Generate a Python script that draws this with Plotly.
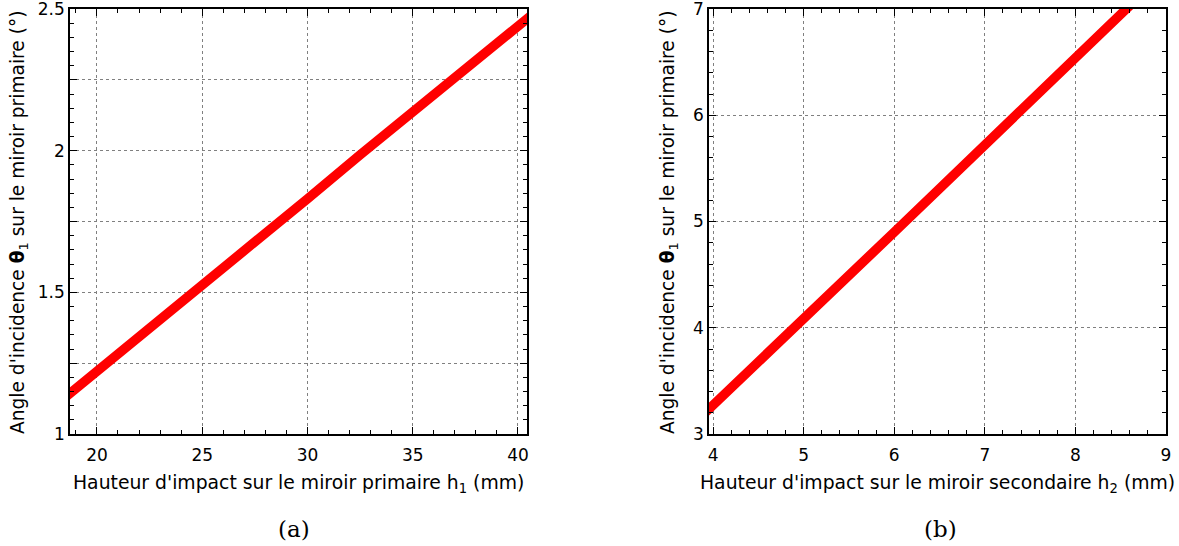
import plotly.graph_objects as go

# Panel (a): primary mirror impact height vs incidence angle
h1_mm = [18.5, 20, 22.5, 25, 27.5, 30, 32.5, 35, 37.5, 40, 41]
theta1_a = [1.13, 1.22, 1.375, 1.525, 1.68, 1.83, 1.985, 2.14, 2.29, 2.44, 2.50]

# Panel (b): secondary mirror impact height vs incidence angle
h2_mm = [3.9, 4, 4.5, 5, 5.5, 6, 6.5, 7, 7.5, 8, 8.6, 9]
theta1_b = [3.19, 3.27, 3.67, 4.07, 4.48, 4.90, 5.31, 5.72, 6.13, 6.54, 7.03, 7.36]

xa_ticks = [20, 25, 30, 35, 40]
ya_ticks = [1, 1.25, 1.5, 1.75, 2, 2.25, 2.5]
ya_text = ["1", "", "1.5", "", "2", "", "2.5"]
xb_ticks = [4, 5, 6, 7, 8, 9]
yb_ticks = [3, 4, 5, 6, 7]

FONT = "DejaVu Sans"
fig = go.Figure()
fig.add_trace(go.Scatter(x=h1_mm, y=theta1_a, mode="lines",
                         line=dict(color="#ff0000", width=9.5), xaxis="x", yaxis="y",
                         showlegend=False, hoverinfo="skip"))
fig.add_trace(go.Scatter(x=h2_mm, y=theta1_b, mode="lines",
                         line=dict(color="#ff0000", width=9.5), xaxis="x2", yaxis="y2",
                         showlegend=False, hoverinfo="skip"))

ydom = [(546 - 434) / 546, (546 - 9) / 546]
common = dict(showline=True, linecolor="black", linewidth=1.5, mirror="allticks",
              ticks="inside", ticklen=7, tickwidth=1.2, tickcolor="black",
              showgrid=True, gridcolor="#808080", griddash="dot", gridwidth=1,
              zeroline=False, automargin=False, ticklabeloverflow="allow",
              tickfont=dict(family=FONT, size=17, color="black"))
xextra = dict(ticklabelstandoff=5)

fig.update_layout(
    template="none",
    width=1179, height=546, margin=dict(l=0, r=0, t=0, b=0, autoexpand=False),
    paper_bgcolor="white", plot_bgcolor="white",
    xaxis=dict(domain=[70 / 1179, 527 / 1179], range=[18.72, 40.43], anchor="y",
               tickvals=xa_ticks, minor=dict(ticks="inside", dtick=1, ticklen=4,
                                             tickcolor="black", showgrid=False),
               **common, **xextra),
    yaxis=dict(domain=ydom, range=[1, 2.5], anchor="x",
               tickvals=ya_ticks, ticktext=ya_text,
               minor=dict(ticks="inside", dtick=0.05, ticklen=4, tickcolor="black",
                          showgrid=False),
               **common),
    xaxis2=dict(domain=[709 / 1179, 1166 / 1179], range=[3.955, 9], anchor="y2",
                tickvals=xb_ticks, minor=dict(ticks="inside", dtick=0.2, ticklen=4,
                                              tickcolor="black", showgrid=False),
                **common, **xextra),
    yaxis2=dict(domain=ydom, range=[3, 7], anchor="x2",
                tickvals=yb_ticks, minor=dict(ticks="inside", dtick=0.2, ticklen=4,
                                              tickcolor="black", showgrid=False),
                **common),
)


def add_text(text, px, py, size, family=FONT, angle=0):
    fig.add_annotation(text=text, x=px / 1179, y=1 - py / 546, xref="paper",
                       yref="paper", xanchor="center", yanchor="middle",
                       textangle=angle, showarrow=False,
                       font=dict(family=family, size=size, color="black"))


add_text("Hauteur d'impact sur le miroir primaire h<sub>1</sub> (mm)", 298, 484, 18.8)
add_text("Hauteur d'impact sur le miroir secondaire h<sub>2</sub> (mm)", 937, 484, 18.8)
ytitle = "Angle d'incidence <b>θ</b><sub>1</sub> sur le miroir primaire (°)"
add_text(ytitle, 19, 222, 18.6, angle=-90)
add_text(ytitle, 669, 222, 18.6, angle=-90)
add_text("(a)", 294, 529, 23, family="DejaVu Serif")
add_text("(b)", 940, 529, 23, family="DejaVu Serif")

fig.write_html("out.html", config={"displayModeBar": False},
               post_script="document.body.style.margin='0';"
                           "document.body.style.overflow='hidden';")
